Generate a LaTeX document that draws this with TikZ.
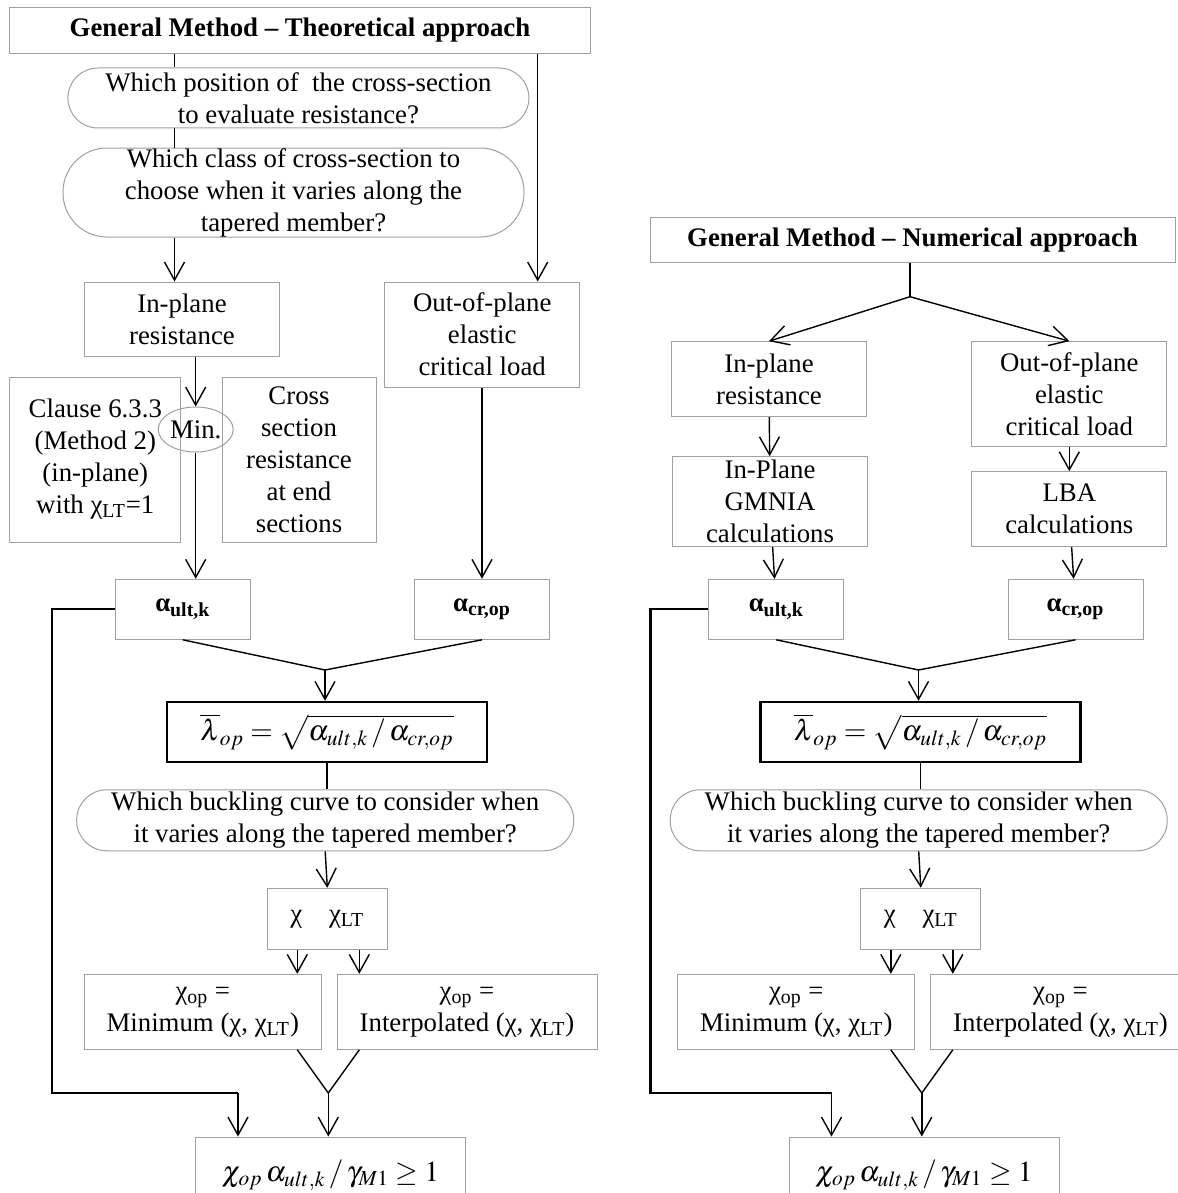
\documentclass[tikz,border=0pt]{standalone}
\usepackage{mathptmx}
\usepackage{fontspec}
\setmainfont{Liberation Serif}
\usetikzlibrary{arrows.meta,shapes.geometric}
\definecolor{boxgray}{RGB}{160,160,160}
\begin{document}
\begin{tikzpicture}[x=0.5pt,y=-0.5pt,
  box/.style={draw=boxgray,line width=0.5pt,inner sep=0pt,align=center,font=\fontsize{13.4}{16}\selectfont},
  size/.style 2 args={minimum width=#1*0.5pt,minimum height=#2*0.5pt},
  qbox/.style={box,rounded corners=#1},
  lambox/.style={box,draw=black,line width=1.2pt,font=\fontsize{14.5}{16}\selectfont},
  link/.style={line width=0.7pt},
  arr/.style={-{Straight Barb[length=9pt,width=10pt]},line width=0.7pt},
  back/.style={line width=1.1pt}]
\useasboundingbox (0,0) rectangle (1177,1193);

% theoretical approach, upper part
\node[box,size={581}{46}] (titleL) at (300,30.3) {\textbf{General Method – Theoretical approach}};
\node[qbox=15pt,size={461}{60}] (qposL) at (298.4,98) {Which position of\ \ the cross-section\\to evaluate resistance?};
\node[qbox=22pt,size={461}{89}] (qclassL) at (293.5,192.5) {Which class of cross-section to\\choose when it varies along the\\tapered member?};
\node[box,size={195}{74}] (inplL) at (182,319) {In-plane\\resistance};
\node[box,size={195}{105}] (outplL) at (482.2,334.5) {Out-of-plane\\elastic\\critical load};
\node[box,size={171}{165}] (clauseL) at (95.3,459.5) {Clause 6.3.3\\(Method 2)\\(in-plane)\\with χ\textsubscript{LT}=1};
\node[box,size={154}{165}] (crossL) at (299,459.5) {Cross\\section\\resistance\\at end\\sections};
\node[box,ellipse,size={75}{45}] (pickL) at (195.7,429.5) {Min.};
\coordinate (spineL) at (174.5,0);
\coordinate (sideL) at (537.7,0);

\draw[link] (titleL.south -| spineL) -- (qposL.north -| spineL);
\draw[link] (qposL.south -| spineL) -- (qclassL.north -| spineL);
\draw[arr] (qclassL.south -| spineL) -- (inplL.north -| spineL);
\draw[arr] (titleL.south -| sideL) -- (outplL.north -| sideL);
\draw[arr] (inplL.south -| pickL) -- (pickL.north);

% numerical approach, upper part
\node[box,size={525}{45}] (titleR) at (912.5,239.7) {\textbf{General Method – Numerical approach}};
\node[box,size={195}{75}] (inplR) at (769,379.2) {In-plane\\resistance};
\node[box,size={195}{105}] (outplR) at (1069.3,394.2) {Out-of-plane\\elastic\\critical load};
\node[box,size={195}{90}] (gmniaR) at (770,501.7) {In-Plane\\GMNIA\\calculations};
\node[box,size={195}{75}] (lbaR) at (1069.3,509.2) {LBA\\calculations};
\coordinate (splitR) at (910,296.7);

\draw[link] (titleR.south -| splitR) -- (splitR);
\draw[arr] (splitR) -- (inplR.north);
\draw[arr] (splitR) -- (outplR.north);
\draw[arr] (inplR) -- (gmniaR);
\draw[arr] (outplR) -- (lbaR);

% lower part, same for both approaches
\foreach \s/\p/\fb in {0/L/51.7, 593.5/R/650.4} {
  \node[box,size={135}{60}] (ault\p) at (182.8+\s,609.3) {\raisebox{-3pt}{\textbf{α\textsubscript{ult,k}}}};
  \node[box,size={135}{60}] (acr\p) at (482+\s,609.3) {\raisebox{-3pt}{\textbf{α\textsubscript{cr,op}}}};
  \node[lambox,size={320}{60}] (lam\p) at (327+\s,732) {$\overline{\lambda}_{op} = \sqrt{\alpha_{ult,k} \,/\, \alpha_{cr,op}}$};
  \node[qbox=15pt,size={497}{61}] (curve\p) at (325.2+\s,820.3) {Which buckling curve to consider when\\it varies along the tapered member?};
  \node[box,size={120}{61}] (chi\p) at (327.3+\s,918.8) {\raisebox{-3.5pt}{χ\quad χ\textsubscript{LT}}};
  \node[box,size={237}{75}] (minimum\p) at (202.8+\s,1011.8) {χ\textsubscript{op} =\\Minimum (χ, χ\textsubscript{LT})};
  \node[box,size={260}{75}] (interp\p) at (467+\s,1011.8) {χ\textsubscript{op} =\\Interpolated (χ, χ\textsubscript{LT})};
  \node[box,size={270}{76},font=\fontsize{14.5}{16}\selectfont] (check\p) at (330.5+\s,1175) {$\chi_{op}\,\alpha_{ult,k} \,/\, \gamma_{M1} \geq 1$};
  \coordinate (joinA\p) at (325+\s,670);
  \coordinate (joinB\p) at (328.3+\s,1093);
  \coordinate (turn\p) at (\fb,1093);
  \coordinate (drop\p) at (238+\s,1093);

  % merge the two factors
  \draw[link] (ault\p.south) -- (joinA\p) -- (acr\p.south);
  \draw[arr] (joinA\p) -- (joinA\p |- lam\p.north);
  \draw[link] (lam\p.south) -- (lam\p.south |- curve\p.north);
  \draw[arr] (curve\p.south) -- (chi\p.north);
  \draw[arr] ([xshift=-15pt]chi\p.south) -- ([xshift=-15pt]chi\p.south |- minimum\p.north);
  \draw[arr] ([xshift=16pt]chi\p.south) -- ([xshift=16pt]chi\p.south |- interp\p.north);
  \draw[link] ([xshift=-15pt]chi\p.south |- minimum\p.south) -- (joinB\p) -- ([xshift=16pt]chi\p.south |- interp\p.south);
  \draw[arr] (joinB\p) -- (joinB\p |- check\p.north);

  % alpha_ult,k carried down to the check
  \draw[back] (ault\p.west) -| (turn\p) -- (drop\p);
  \draw[arr] (drop\p) -- (drop\p |- check\p.north);
}
\draw[arr] (pickL.south) -- (pickL.south |- aultL.north);
\draw[arr] (outplL.south -| acrL) -- (acrL.north);
\draw[arr] (gmniaR) -- (aultR);
\draw[arr] (lbaR) -- (acrR);
\end{tikzpicture}
\end{document}
